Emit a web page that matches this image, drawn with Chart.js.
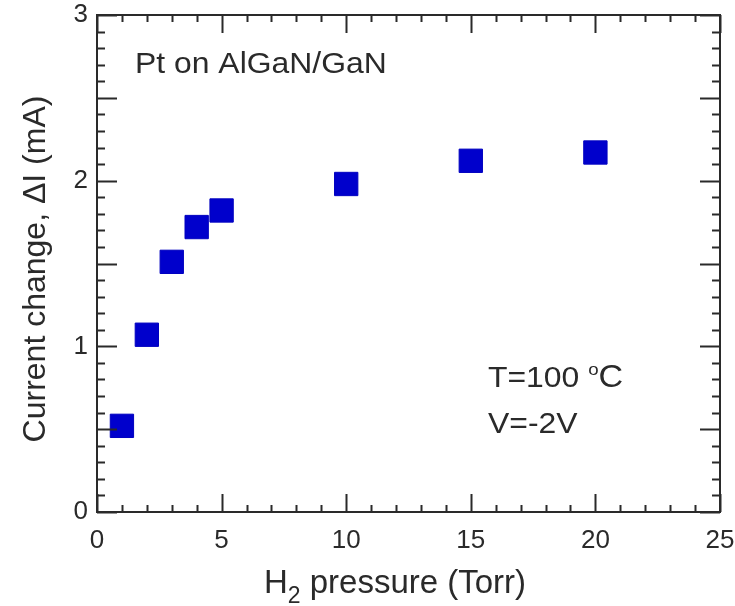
<!DOCTYPE html>
<html>
<head>
<meta charset="utf-8">
<script src="https://cdn.jsdelivr.net/npm/chart.js@4.4.1/dist/chart.umd.min.js"></script>
<style>
    html, body { margin: 0; padding: 0; background: #fff; }
    #wrap { width: 735px; height: 606px; }
</style>
</head>
<body>
<div id="wrap"><canvas id="chart" width="735" height="606"></canvas></div>
<script>
// H2 pressure (Torr)
const pressures = [1, 2, 3, 4, 5, 10, 15, 20];
// current change dI (mA)
const currentChange = [0.52, 1.07, 1.51, 1.72, 1.82, 1.98, 2.12, 2.17];

const X_MIN = 0, X_MAX = 25, X_STEP = 5, X_MINOR = 1;
const Y_MIN = 0, Y_MAX = 3, Y_STEP = 1, Y_MID = 0.5, Y_MINOR = 0.1;

const INK = "#2a2a2a";
const FONT = "'Liberation Sans', Arial, Helvetica, sans-serif";
const STRETCH = 1.1; // the original lettering is a bit wide

// keep the plot box where it is, labels may overhang
const noOverhang = (scale) => {
    scale.paddingTop = 0; scale.paddingBottom = 0;
    scale.paddingLeft = 0; scale.paddingRight = 0;
};

// draw runs of [text, size, dy] left to right, stretched horizontally
function drawRuns(ctx, runs, x, y) {
    ctx.save();
    ctx.translate(x, y);
    ctx.scale(STRETCH, 1);
    let cx = 0;
    runs.forEach(([txt, size, dy]) => {
        ctx.font = `${size}px ${FONT}`;
        ctx.fillText(txt, cx, dy || 0);
        cx += ctx.measureText(txt).width;
    });
    ctx.restore();
}

const framePlugin = {
    id: "frame",
    afterDraw(chart) {
        const { ctx, chartArea: a, scales } = chart;
        const xs = scales.x, ys = scales.y;
        ctx.save();
        ctx.strokeStyle = INK;
        ctx.lineWidth = 2;
        ctx.strokeRect(a.left, a.top, a.right - a.left, a.bottom - a.top);

        // inward ticks, all four sides
        ctx.beginPath();
        for (let v = X_MIN; v <= X_MAX + 1e-9; v += X_MINOR) {
            const px = Math.round(xs.getPixelForValue(v)) + 0.5;
            const major = Math.abs(v / X_STEP - Math.round(v / X_STEP)) < 1e-6;
            const len = major ? 18 : 7;
            ctx.moveTo(px, a.bottom); ctx.lineTo(px, a.bottom - len);
            ctx.moveTo(px, a.top); ctx.lineTo(px, a.top + len);
        }
        for (let i = 0; i <= Math.round((Y_MAX - Y_MIN) / Y_MINOR); i++) {
            const v = Y_MIN + i * Y_MINOR;
            const py = Math.round(ys.getPixelForValue(v)) + 0.5;
            const major = Math.abs(v / Y_MID - Math.round(v / Y_MID)) < 1e-6;
            const len = major ? 20 : 8;
            ctx.moveTo(a.left, py); ctx.lineTo(a.left + len, py);
            ctx.moveTo(a.right, py); ctx.lineTo(a.right - len, py);
        }
        ctx.stroke();

        ctx.fillStyle = INK;
        ctx.textBaseline = "alphabetic";
        ctx.textAlign = "left";

        // annotations
        drawRuns(ctx, [["Pt on AlGaN/GaN", 29]], 135, 73);
        drawRuns(ctx, [["T=100 ", 29], ["o", 17, -12], ["C", 31]], 488, 387);
        drawRuns(ctx, [["V=-2V", 29]], 488, 433);

        // x title with subscript
        const big = `33px ${FONT}`, small = `23px ${FONT}`;
        ctx.font = big; const wH = ctx.measureText("H").width;
        const wRest = ctx.measureText(" pressure (Torr)").width;
        ctx.font = small; const w2 = ctx.measureText("2").width;
        let tx = 395 - (wH + w2 + wRest) / 2;
        ctx.font = big; ctx.fillText("H", tx, 593); tx += wH;
        ctx.font = small; ctx.fillText("2", tx, 603); tx += w2;
        ctx.font = big; ctx.fillText(" pressure (Torr)", tx, 593);

        // y title
        ctx.translate(45, 269);
        ctx.rotate(-Math.PI / 2);
        ctx.textAlign = "center";
        ctx.font = `32px ${FONT}`;
        ctx.fillText("Current change, \u0394I (mA)", 0, 0);
        ctx.restore();
    }
};

new Chart(document.getElementById("chart"), {
    type: "scatter",
    data: {
        datasets: [{
            data: pressures.map((p, i) => ({ x: p, y: currentChange[i] })),
            pointStyle: "rect",
            pointRadius: 16.5,
            pointHoverRadius: 16.5,
            backgroundColor: "#0000cc",
            borderColor: "#0000c0",
            borderWidth: 1
        }]
    },
    options: {
        responsive: false,
        animation: false,
        events: [],
        layout: { autoPadding: false, padding: { top: 15, right: 15, left: 0, bottom: 0 } },
        plugins: { legend: { display: false }, tooltip: { enabled: false } },
        scales: {
            x: {
                type: "linear", min: X_MIN, max: X_MAX,
                grid: { display: false, drawTicks: false },
                border: { display: false },
                ticks: { stepSize: X_STEP, padding: 13, color: INK, font: { family: FONT, size: 26 } },
                afterFit(scale) { scale.height = 94; noOverhang(scale); }
            },
            y: {
                type: "linear", min: Y_MIN, max: Y_MAX,
                grid: { display: false, drawTicks: false },
                border: { display: false },
                ticks: { stepSize: Y_STEP, padding: 9, color: INK, font: { family: FONT, size: 26 } },
                afterFit(scale) { scale.width = 97; noOverhang(scale); }
            }
        }
    },
    plugins: [framePlugin]
});
</script>
</body>
</html>
